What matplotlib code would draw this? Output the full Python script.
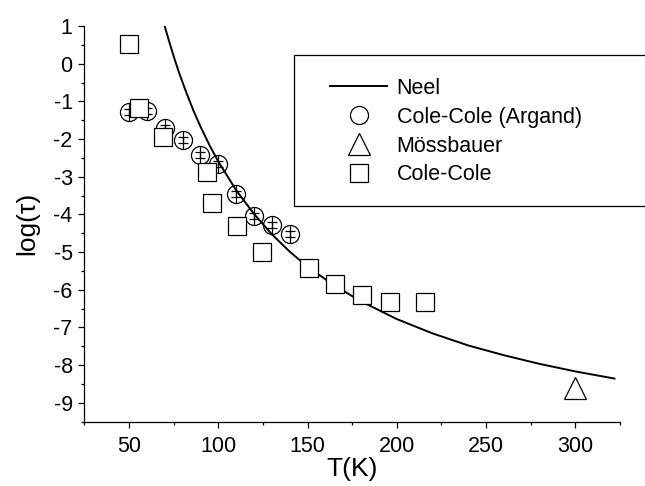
import matplotlib
matplotlib.use("Agg")
import matplotlib.pyplot as plt
from matplotlib.patches import Rectangle
from matplotlib.ticker import MultipleLocator

plt.rcParams['font.family'] = ['Liberation Sans', 'DejaVu Sans']
plt.rcParams['axes.unicode_minus'] = False

# Neel law curve
neel_T = [70, 72, 75, 78, 82, 86, 90, 95, 100, 110, 120, 130, 140, 150,
          165, 180, 200, 220, 240, 260, 280, 300, 322]
neel_log = [0.99, 0.66, 0.19, -0.24, -0.76, -1.24, -1.67, -2.16, -2.60, -3.36,
            -3.99, -4.53, -4.99, -5.39, -5.89, -6.31, -6.78, -7.16, -7.48,
            -7.74, -7.97, -8.17, -8.36]

# Cole-Cole (Argand)
argand_T = [50, 60, 70, 80, 90, 100, 110, 120, 130, 140]
argand_log = [-1.28, -1.25, -1.72, -2.03, -2.42, -2.66, -3.47, -4.04, -4.28, -4.52]
argand_err = [0.08, 0.08, 0.08, 0.08, 0.08, 0.08, 0.08, 0.08, 0.08, 0.08]

# Mossbauer
moss_T = [300]
moss_log = [-8.62]

# Cole-Cole
cc_T = [50, 55.4, 69.2, 93.5, 96.3, 110.3, 124.5, 150.6, 165.5, 180.7, 196.2, 215.8]
cc_log = [0.52, -1.18, -1.94, -2.87, -3.71, -4.30, -4.99, -5.43, -5.86, -6.14, -6.32, -6.34]

fig = plt.figure(figsize=(6.45, 4.86), dpi=100)
ax = fig.add_axes([0.131, 0.1327, 0.830, 0.8138])

# circles: open, with small error bars
h_arg, = ax.plot(argand_T, argand_log, 'o', ms=13, mfc='none', mec='black', mew=0.9,
                 zorder=2, label='Cole-Cole (Argand)')
ax.plot(argand_T, argand_log, '|', ms=13, mec='black', mew=0.9, zorder=2)
ax.errorbar(argand_T, argand_log, yerr=argand_err, fmt='none', ecolor='black',
            elinewidth=0.9, capsize=3.5, capthick=0.9, zorder=2)

h_neel, = ax.plot(neel_T, neel_log, '-', color='black', lw=1.4, zorder=3, label='Neel')

h_moss, = ax.plot(moss_T, moss_log, '^', ms=16, mfc='white', mec='black', mew=0.9,
                  zorder=4, label='Mössbauer')
h_cc, = ax.plot(cc_T, cc_log, 's', ms=12.5, mfc='white', mec='black', mew=0.9,
                zorder=4, label='Cole-Cole')

ax.set_xlim(25, 325)
ax.set_ylim(-9.5, 1)
ax.xaxis.set_major_locator(MultipleLocator(50))
ax.xaxis.set_minor_locator(MultipleLocator(25))
ax.yaxis.set_major_locator(MultipleLocator(1))
ax.yaxis.set_minor_locator(MultipleLocator(0.5))

ax.spines['top'].set_visible(False)
ax.spines['right'].set_visible(False)
ax.spines['left'].set_linewidth(0.9)
ax.spines['bottom'].set_linewidth(0.9)
ax.tick_params(which='major', direction='out', length=4.5, width=0.9,
               labelsize=15.5, pad=4)
ax.tick_params(which='minor', direction='out', length=2.5, width=0.9)
ax.tick_params(axis='x', which='major', pad=6)

ax.set_xlabel('T(K)', fontsize=19, labelpad=0)
ax.set_ylabel('log(τ)', fontsize=19, labelpad=10)

# legend box runs off the right edge, as in the original
fig.patches.append(Rectangle((294 / 645, 1 - 206 / 486), 400 / 645, 151 / 486,
                             transform=fig.transFigure, fill=False,
                             edgecolor='black', lw=0.9))
leg = ax.legend(handles=[h_neel, h_arg, h_moss, h_cc], frameon=False,
                fontsize=15.5, handlelength=2.65, handletextpad=0.45,
                labelspacing=0.36, borderpad=0, borderaxespad=0,
                loc='upper left', bbox_to_anchor=(330 / 645, 1 - 78 / 486),
                bbox_transform=fig.transFigure)

fig.savefig('out.png', dpi=100)
